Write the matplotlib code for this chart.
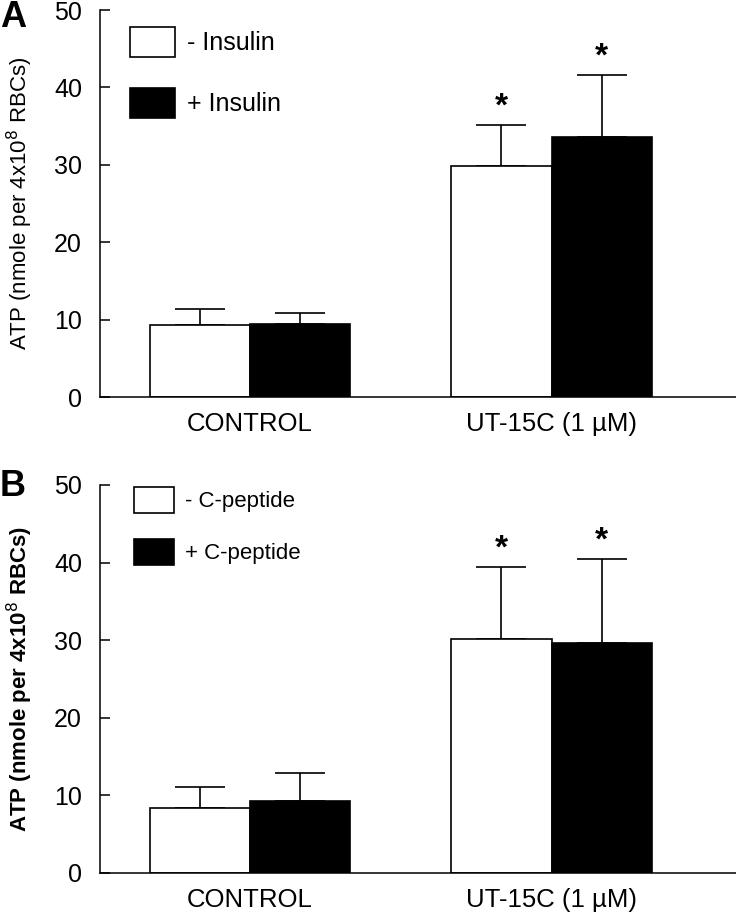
import matplotlib
matplotlib.use('Agg')
import matplotlib.pyplot as plt
import numpy as np

plt.rcParams['font.family'] = ['Liberation Sans', 'DejaVu Sans']

# Dados
grupos = ['CONTROL', 'UT-15C (1 µM)']

# Painel A: insulina
a_menos = [9.3, 29.8]
a_menos_err = [2.1, 5.3]
a_mais = [9.5, 33.6]
a_mais_err = [1.3, 8.0]
a_legenda = ['- Insulin', '+ Insulin']

# Painel B: C-peptide
b_menos = [8.4, 30.2]
b_menos_err = [2.7, 9.2]
b_mais = [9.3, 29.6]
b_mais_err = [3.6, 10.8]
b_legenda = ['- C-peptide', '+ C-peptide']

# Grupos com asterisco (significancia)
signif = [False, True]

LARGURA = 0.332
x = np.arange(len(grupos))


def desenha_painel(ax, menos, menos_err, mais, mais_err, legenda, rotulo_y,
                   negrito, tam_leg, leg_kw):
    zeros = [0] * len(grupos)
    b1 = ax.bar(x - LARGURA / 2, menos, LARGURA, color='white', edgecolor='black',
                linewidth=1.2, label=legenda[0], zorder=2)
    b2 = ax.bar(x + LARGURA / 2, mais, LARGURA, color='black', edgecolor='black',
                linewidth=1.2, label=legenda[1], zorder=2)
    ax.errorbar(x - LARGURA / 2, menos, yerr=[zeros, menos_err], fmt='none',
                ecolor='black', elinewidth=1.2, capsize=18, capthick=1.2, zorder=1)
    ax.errorbar(x + LARGURA / 2, mais, yerr=[zeros, mais_err], fmt='none',
                ecolor='black', elinewidth=1.2, capsize=18, capthick=1.2, zorder=1)

    # Asteriscos acima das barras de erro
    for i, s in enumerate(signif):
        if s:
            ax.annotate('*', (x[i] - LARGURA / 2, menos[i] + menos_err[i]),
                        xytext=(0, 2), textcoords='offset points', ha='center',
                        va='bottom', fontsize=24, fontweight='bold')
            ax.annotate('*', (x[i] + LARGURA / 2, mais[i] + mais_err[i]),
                        xytext=(0, 2), textcoords='offset points', ha='center',
                        va='bottom', fontsize=24, fontweight='bold')

    ax.set_xlim(-0.4975, 1.612)
    ax.set_ylim(0, 50)
    ax.set_yticks([0, 10, 20, 30, 40, 50])
    ax.set_xticks(x)
    ax.set_xticklabels(grupos, fontsize=18.5)
    ax.tick_params(axis='x', length=0, pad=11)
    ax.tick_params(axis='y', direction='in', length=7, width=1.1, pad=13,
                   labelsize=18)
    for lado in ['top', 'right']:
        ax.spines[lado].set_visible(False)
    for lado in ['left', 'bottom']:
        ax.spines[lado].set_linewidth(1.1)

    ax.set_ylabel(rotulo_y, fontsize=16,
                  fontweight='bold' if negrito else 'normal')
    ax.yaxis.set_label_coords(-0.102, 0.5)

    ax.legend(handles=[b1, b2], loc='upper left', frameon=False,
              fontsize=tam_leg, borderpad=0, borderaxespad=0, **leg_kw)


fig = plt.figure(figsize=(7.36, 9.14), dpi=100)
ax_a = fig.add_axes([0.136, 0.5656, 0.864, 0.4234])
ax_b = fig.add_axes([0.136, 0.0449, 0.864, 0.4245])

desenha_painel(ax_a, a_menos, a_menos_err, a_mais, a_mais_err, a_legenda,
               'ATP (nmole per 4x10$^{8}$ RBCs)', False, 18,
               dict(bbox_to_anchor=(0.047, 0.956), handlelength=1.8,
                    handleheight=1.45, handletextpad=0.5, labelspacing=1.25))
desenha_painel(ax_b, b_menos, b_menos_err, b_mais, b_mais_err, b_legenda,
               'ATP (nmole per 4x10$^{8}$ RBCs)', True, 16,
               dict(bbox_to_anchor=(0.053, 0.995), handlelength=1.8,
                    handleheight=1.4, handletextpad=0.5, labelspacing=1.2))

fig.text(0.0, 1.0, 'A', fontsize=26, fontweight='bold', ha='left', va='top')
fig.text(0.0, 0.487, 'B', fontsize=26, fontweight='bold', ha='left', va='top')

plt.savefig('out.png', dpi=100)
